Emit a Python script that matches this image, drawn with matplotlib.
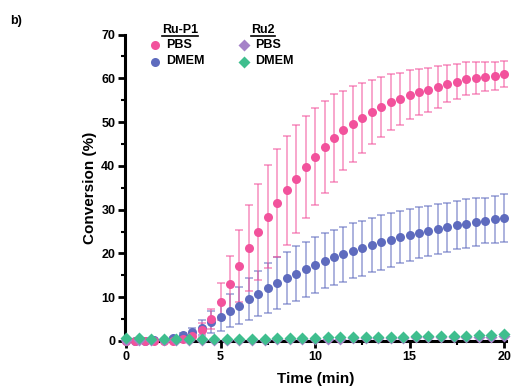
import numpy as np
import matplotlib
matplotlib.use('Agg')
import matplotlib.pyplot as plt
from matplotlib.lines import Line2D

plt.rcParams['font.family'] = ['Liberation Sans', 'DejaVu Sans']
plt.rcParams['font.weight'] = 'bold'

# Ru-P1 sampled every 0.5 min
time_p1 = [0, 0.5, 1, 1.5, 2, 2.5, 3, 3.5, 4, 4.5, 5, 5.5, 6, 6.5, 7, 7.5, 8, 8.5, 9, 9.5,
           10, 10.5, 11, 11.5, 12, 12.5, 13, 13.5, 14, 14.5, 15, 15.5, 16, 16.5, 17, 17.5,
           18, 18.5, 19, 19.5, 20]
p1_pbs = [0, 0, 0, 0, 0, 0.1, 0.4, 1.1, 2.5, 5.1, 9.0, 13.1, 17.2, 21.2, 24.9, 28.4, 31.5,
          34.4, 37.0, 39.7, 42.1, 44.2, 46.3, 48.1, 49.6, 51.0, 52.3, 53.5, 54.6, 55.3, 56.2,
          56.9, 57.4, 58.1, 58.8, 59.2, 59.9, 60.1, 60.4, 60.6, 61.0]
p1_pbs_err = [0, 0, 0, 0, 0, 0.1, 0.3, 0.8, 1.5, 2.3, 4.2, 6.2, 8.2, 9.8, 10.9, 11.8, 12.3,
              12.5, 12.3, 11.7, 11.1, 10.5, 10.1, 9.1, 8.7, 8.0, 7.4, 6.8, 6.3, 5.9, 5.6,
              5.2, 5.0, 4.8, 4.3, 4.0, 3.8, 3.6, 3.3, 3.2, 3.0]
p1_dmem = [0.1, 0.1, 0.1, 0.2, 0.3, 0.7, 1.3, 2.0, 3.0, 4.3, 5.5, 6.9, 8.1, 9.5, 10.8, 12.1,
           13.3, 14.4, 15.4, 16.4, 17.3, 18.3, 19.1, 19.8, 20.6, 21.2, 21.9, 22.5, 23.1, 23.7,
           24.2, 24.7, 25.2, 25.6, 26.0, 26.5, 26.8, 27.2, 27.5, 27.8, 28.0]
p1_dmem_err = [0.1, 0.1, 0.1, 0.1, 0.1, 0.3, 0.6, 1.0, 1.7, 2.5, 3.3, 3.8, 4.3, 4.8, 5.2, 5.6,
               5.9, 6.0, 6.2, 6.3, 6.4, 6.3, 6.2, 6.3, 6.3, 6.3, 6.1, 6.2, 6.2, 6.0, 5.9, 5.8,
               5.7, 5.8, 5.6, 5.4, 5.6, 5.5, 5.2, 5.4, 5.5]

# Ru2 sampled every 40 s
time_ru2 = [0, 0.67, 1.33, 2, 2.67, 3.33, 4, 4.67, 5.33, 6, 6.67, 7.33, 8, 8.67, 9.33, 10,
            10.67, 11.33, 12, 12.67, 13.33, 14, 14.67, 15.33, 16, 16.67, 17.33, 18, 18.67,
            19.33, 20]
ru2_pbs = [0.3, 0.2, 0.2, 0.2, 0.2, 0.2, 0.2, 0.2, 0.3, 0.3, 0.3, 0.3, 0.4, 0.4, 0.4, 0.5,
           0.5, 0.5, 0.6, 0.6, 0.6, 0.7, 0.7, 0.8, 0.8, 0.8, 0.9, 0.9, 1.0, 1.0, 1.1]
ru2_dmem = [0.7, 0.7, 0.5, 0.5, 0.5, 0.5, 0.4, 0.4, 0.5, 0.5, 0.5, 0.5, 0.6, 0.6, 0.7, 0.7,
            0.8, 0.8, 0.8, 0.8, 0.9, 0.9, 1.0, 1.1, 1.1, 1.2, 1.2, 1.2, 1.3, 1.4, 1.5]

c_pink = '#F2529C'
c_blue = '#5E6BBE'
c_purple = '#A582C8'
c_green = '#3FBE8E'

fig = plt.figure(figsize=(5.13, 3.89), dpi=100)
ax = fig.add_axes([0.2437, 0.1234, 0.7427, 0.7879])

for y, e, c in [(p1_dmem, p1_dmem_err, c_blue), (p1_pbs, p1_pbs_err, c_pink)]:
    ax.errorbar(time_p1, y, yerr=e, fmt='none', ecolor=c, alpha=0.6, elinewidth=1.2,
                capsize=3, capthick=1.2, clip_on=False, zorder=2)
    ax.plot(time_p1, y, 'o', color=c, ms=6.5, mec='none', clip_on=False, zorder=3)

ax.plot(time_ru2, ru2_pbs, 'D', color=c_purple, ms=6.3, mec='none', clip_on=False, zorder=4)
ax.plot(time_ru2, ru2_dmem, 'D', color=c_green, ms=6.3, mec='none', clip_on=False, zorder=5)

ax.set_xlim(-0.05, 20.1)
ax.set_ylim(0, 70)
ax.set_xticks([0, 5, 10, 15, 20])
ax.set_xticks([2.5, 7.5, 12.5, 17.5], minor=True)
ax.set_yticks(np.arange(0, 71, 10))
ax.set_yticks(np.arange(5, 70, 10), minor=True)

ax.spines['top'].set_visible(False)
ax.spines['right'].set_visible(False)
ax.spines['left'].set_linewidth(2.2)
ax.spines['bottom'].set_linewidth(2.2)
ax.tick_params(axis='both', which='major', length=5, width=2, labelsize=9, pad=2)
ax.tick_params(axis='both', which='minor', length=3, width=1.5)

ax.set_xlabel('Time (min)', fontsize=11, fontweight='bold', labelpad=7)
ax.set_ylabel('Conversion (%)', fontsize=11, fontweight='bold', labelpad=3)

fig.text(16 / 513, 1 - 21 / 389, 'b)', fontsize=9, fontweight='bold', ha='center', va='center')

# legend drawn by hand, two underlined columns
W, H = 513, 389
def fx(p):
    return p / W
def fy(p):
    return 1 - p / H

for xm, xt, title, entries in [(154.5, 166, 'Ru-P1', [('o', c_pink, 'PBS'), ('o', c_blue, 'DMEM')]),
                               (243.5, 255, 'Ru2', [('D', c_purple, 'PBS'), ('D', c_green, 'DMEM')])]:
    t = fig.text(fx(xt - 4), fy(30), title, fontsize=9, fontweight='bold', ha='left', va='center')
    fig.canvas.draw()
    bb = t.get_window_extent()
    fig.add_artist(Line2D([bb.x0 / W, bb.x1 / W], [fy(36), fy(36)], color='black', lw=1.2))
    for i, (m, c, lab) in enumerate(entries):
        yy = 44.5 + 17 * i
        fig.add_artist(Line2D([fx(xm)], [fy(yy)], marker=m, color=c, ms=6.5 if m == 'o' else 6.3,
                              mec='none', linestyle='none'))
        fig.text(fx(xt), fy(yy), lab, fontsize=9, fontweight='bold', ha='left', va='center')

fig.savefig('out.png', dpi=100)
